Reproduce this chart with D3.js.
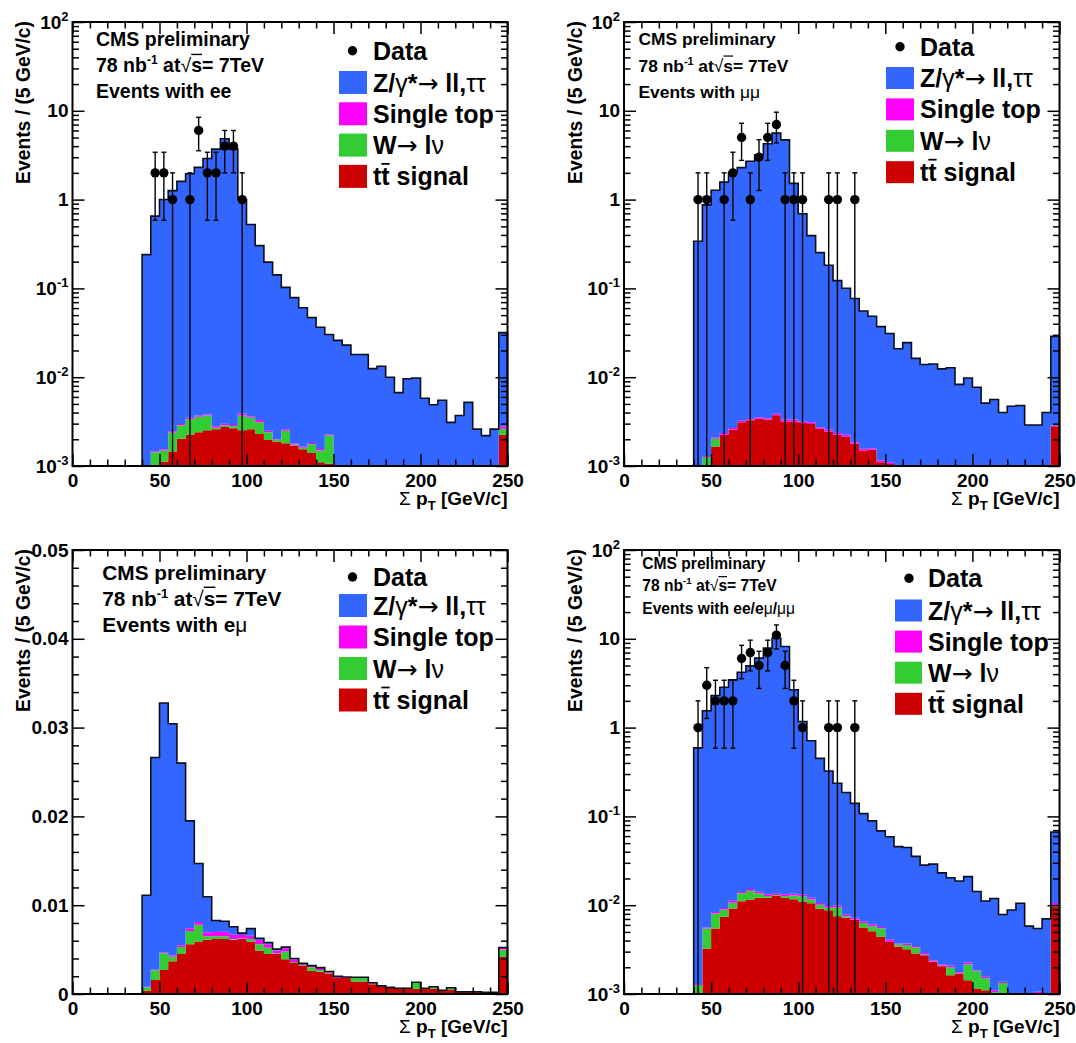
<!DOCTYPE html>
<html>
<head>
<meta charset="utf-8">
<script src="https://cdn.jsdelivr.net/npm/d3@7"></script>
<style>
  html, body { margin: 0; padding: 0; background: #fff; }
  svg text { font-family: "Liberation Sans", Arial, Helvetica, sans-serif; font-weight: bold; fill: #000; }
  svg text .sym { font-weight: normal; }
  svg text .arrow { font-family: "DejaVu Sans", sans-serif; font-weight: normal; }
</style>
</head>
<body>
<svg id="chart" width="1076" height="1043"></svg>
<script>
// Lower edges of the filled Σ pT bins (5 GeV/c wide, 40-250 GeV/c; the last bin holds the overflow)
const binLow = d3.range(40, 250, 5);

// ---- ee channel ----
const eeZ  = [0.24,0.65,1.0,1.26,1.6,1.95,2.3,2.9,3.7,4.85, 3.7,1.0,0.52,0.30,0.195,0.14,0.10,0.077,0.059,0.045,
              0.035,0.028,0.026,0.023,0.018,0.018,0.0125,0.0133,0.010,0.0067, 0.0096,0.0098,0.0058,0.0049,0.0055,0.0031,0.0037,0.0052,0.0026,0.0022,
              0.0026,0.029];
const eeTT = [0,0,0.00112,0.00146,0.00203,0.00225,0.0024,0.00253,0.0026,0.00275, 0.00267,0.00253,0.0026,0.0023,0.00196,0.00189,0.0018,0.0017,0.00154,0.0014,
              0.0011,0.00106,0,0,0,0,0,0,0,0, 0,0,0,0,0,0,0,0,0,0, 0,0.00225];
const eeW  = [0,0.00143,0.00037,0.00093,0.00084,0.00111,0.00118,0.00117,0.0001,0.00012, 0.00013,0.00117,0.0009,0.0008,0.00044,0.00008,0.0007,0.00005,0.00006,0.00036,
              0.00039,0.00114,0,0,0,0,0,0,0,0, 0,0,0,0,0,0,0,0,0,0, 0,0.00038];
const eeST = [0,0.00004,0.00005,0.00007,0.00011,0.00014,0.00012,0.0001,0.0001,0.00013, 0.0001,0.0002,0.0001,0.0002,0.0001,0.00003,0.0001,0.00005,0.00005,0.00006,
              0.00006,0.00005,0,0,0,0,0,0,0,0, 0,0,0,0,0,0,0,0,0,0, 0,0.00017];
const eeDataX = [47.5,52.5,57.5,67.5,72.5,77.5,82.5,87.5,92.5,97.5];
const eeDataN = [2,2,1,1,6,2,2,4,4,1];

// ---- μμ channel ----
const mmZ  = [0.34,0.87,1.27,1.57,2.02,2.29,2.7,3.2,4.25,5.6, 4.7,1.52,0.69,0.39,0.25,0.18,0.12,0.098,0.075,0.054,
              0.047,0.036,0.030,0.020,0.0245,0.0163,0.0139,0.0141,0.0124,0.0128, 0.0083,0.0098,0.0077,0.0051,0.0056,0.0040,0.0047,0.0048,0.0029,0.0029,
              0.0040,0.026];
const mmTT = [0,0,0.00166,0.00225,0.00257,0.0031,0.00327,0.00341,0.00333,0.00372, 0.00318,0.00318,0.00305,0.00297,0.00263,0.00245,0.00225,0.00215,0.00178,0.00149,
              0.00152,0.0011,0.00105,0.0009,0,0,0,0,0,0, 0,0,0,0,0,0,0,0,0,0, 0,0.0028];
const mmW  = [0,0.00126,0.00037,0,0,0,0,0,0,0, 0,0,0,0,0,0,0,0,0,0,
              0,0,0,0,0,0,0,0,0,0, 0,0,0,0,0,0,0,0,0,0, 0,0];
const mmST = [0,0.00004,0.00007,0.0001,0.00011,0.00013,0.0001,0.00014,0.00011,0.00016, 0.00015,0.00015,0.00013,0.00013,0.00011,0.00012,0.0001,0.0001,0.00007,0.00007,
              0.00006,0.00005,0.00005,0.00005,0,0,0,0,0,0, 0,0,0,0,0,0,0,0,0,0, 0,0.00005];
const mmDataX = [42.5,47.5,57.5,62.5,67.5,72.5,77.5,82.5,87.5,92.5,97.5,102.5,117.5,122.5,132.5];
const mmDataN = [1,1,1,2,5,1,3,5,7,1,1,1,1,1,1];

// ---- eμ channel ----
const emZ  = [0.0103,0.0239,0.0281,0.0261,0.0205,0.0121,0.0066,0.004,0.0013,0.0012, 0.0009,0.0002,0.0008,0.0002,0.0002,0.00015,0.00014,0.0001,0,0,
              0,0.00007,0.00007,0,0,0,0,0,0,0, 0,0,0,0,0,0,0,0,0,0, 0,0.00004];
const emTT = [0.00037,0.00157,0.0027,0.0037,0.0045,0.0056,0.0059,0.0061,0.0062,0.0062, 0.0061,0.0062,0.0059,0.0049,0.0045,0.0045,0.0039,0.0035,0.0032,0.0026,
              0.0025,0.0023,0.0018,0.0018,0.0014,0.0014,0.0011,0.0008,0.0007,0.0006, 0.0006,0.0006,0.0006,0.0006,0.0004,0.0005,0.00024,0.00024,0.00024,0.00017,
              0.00017,0.0042];
const emW  = [0.0004,0.0011,0.0019,0.0005,0.0008,0.0015,0.0019,0.0004,0.0003,0.0003, 0.0001,0.00005,0.0003,0.0007,0.0007,0.0001,0.0009,0.0001,0.0001,0.0004,
              0.0002,0.0001,0.00004,0.00004,0.00044,0.00044,0.00005,0.00003,0.00002,0.00002, 0.00002,0.0007,0.00002,0.0002,0.00002,0.0002,0.00001,0.00001,0.00001,0.00001,
              0.00001,0.0008];
const emST = [0.00005,0.00007,0.00007,0.00014,0.0002,0.0003,0.0003,0.00045,0.00048,0.0005, 0.00048,0.0004,0.00036,0.00047,0.0004,0.0003,0.00034,0.0003,0.00015,0.0002,
              0.00027,0.00007,0.00007,0.00007,0.00004,0.00004,0.00012,0.00009,0.00003,0.00002, 0.00002,0.00003,0.00002,0.00002,0.00001,0.00001,0.00001,0.00001,0.00001,0.00001,
              0.00001,0.0002];
const emDataX = [];
const emDataN = [];

// ---- all channels combined ----
const llZ  = [0.59,1.54,2.29,2.84,3.44,4.19,4.94,6.05,7.84,10.2, 8.19,2.65,1.16,0.70,0.44,0.315,0.226,0.178,0.133,0.101,
              0.083,0.063,0.055,0.042,0.041,0.032,0.0254,0.0266,0.021,0.0183, 0.017,0.0187,0.0124,0.0096,0.0108,0.0065,0.0082,0.0099,0.0052,0.0044,
              0.0064,0.056];
const llTT = [0.0004,0.00326,0.00547,0.0074,0.0092,0.0111,0.0116,0.0121,0.0121,0.0128, 0.0121,0.0117,0.011,0.0105,0.0091,0.0088,0.0075,0.0072,0.0068,0.0056,
              0.0051,0.0044,0.0039,0.0034,0.0032,0.00286,0.00274,0.0023,0.00206,0.00163, 0.0017,0.00143,0.00115,0.0011,0.00095,0.0008,0.0006,0.0006,0.0006,0.0007,
              0.0006,0.0096];
const llW  = [0.00086,0.00221,0.0026,0.00156,0.00144,0.0025,0.0029,0.0015,0.0006,0.0002, 0.0006,0.0012,0.0016,0.0011,0.001,0.0006,0.002,0.0003,0.0001,0.0007,
              0.0007,0.0011,0.00001,0.0002,0.00036,0.0005,0.00004,0.00003,0.00002,0.00037, 0.00001,0.00072,0.00065,0.0004,0.0001,0.00053,0.00001,0.00001,0.00001,0.0003,
              0.00001,0.0003];
const llST = [0.00004,0.00013,0.00033,0.00034,0.00056,0.0005,0.0007,0.0006,0.0006,0.0006, 0.0006,0.0006,0.0006,0.0005,0.0005,0.0004,0.0004,0.0003,0.0003,0.0003,
              0.0003,0.0002,0.0002,0.0001,0.00014,0.00011,0.00012,0.00007,0.00007,0.0001, 0.00005,0.00012,0.00004,0.00006,0.00005,0.00004,0.00001,0.00001,0.00001,0.00006,
              0.00001,0.0007];
const llDataX = [42.5,47.5,52.5,57.5,62.5,67.5,72.5,77.5,82.5,87.5,92.5,97.5,102.5,117.5,122.5,132.5];
const llDataN = [1,3,2,2,2,6,7,5,7,11,5,2,1,1,1,1];

// Axis ticks
const xTicks = [0, 50, 100, 150, 200, 250];
const xMinorTicks = d3.range(0, 251, 10).filter(v => v % 50 !== 0);
const logTicks = [1e-3, 1e-2, 1e-1, 1, 10, 100];
const logMinorTicks = d3.range(-3, 2).flatMap(e => d3.range(2, 10).map(m => m * Math.pow(10, e)));
const linTicks = [0, 0.01, 0.02, 0.03, 0.04, 0.05];
const linMinorTicks = d3.range(0, 0.0501, 0.002).filter((v, i) => i % 5 !== 0);

// Legend entries: text split into bold runs, symbol-font runs and barred runs
const legendEntries = [
  { key: 'data', parts: [['Data']] },
  { key: 'Z',  parts: [['Z/'], ['γ', 'sym'], ['*'], ['→', 'arrow'], [' ll,'], ['ττ', 'sym']] },
  { key: 'st', parts: [['Single top']] },
  { key: 'W',  parts: [['W'], ['→', 'arrow'], [' l'], ['ν', 'sym']] },
  { key: 'tt', parts: [['t'], ['t', 'bar'], [' signal']] }
];

const fills = { tt: '#cc0000', W: '#33cc33', st: '#ff00ff', Z: '#3366ff' };
const layerKeys = ['tt', 'W', 'st', 'Z'];

const panels = [
  { Z: eeZ, tt: eeTT, W: eeW, st: eeST, dataX: eeDataX, dataN: eeDataN, log: true,
    x0: 72.5, y0: 22, w: 435, h: 444,
    header: { x: 96, ys: [45.7, 72, 98.3], size: 19.5, last: [['Events with ee']] },
    legend: { markX: 352.5, dataY: 50.7, boxX: 339, boxW: 28, boxH: 23, boxTop: 71, step: 31.3, textX: 373 } },
  { Z: mmZ, tt: mmTT, W: mmW, st: mmST, dataX: mmDataX, dataN: mmDataN, log: true,
    x0: 624, y0: 22, w: 435.5, h: 444,
    header: { x: 638.5, ys: [45, 71.7, 97.7], size: 17.4, last: [['Events with '], ['μμ', 'sym']] },
    legend: { markX: 900, dataY: 46.7, boxX: 886, boxW: 28, boxH: 22, boxTop: 67, step: 31.4, textX: 920 } },
  { Z: emZ, tt: emTT, W: emW, st: emST, dataX: emDataX, dataN: emDataN, log: false,
    x0: 72.5, y0: 550, w: 435, h: 444,
    header: { x: 102.3, ys: [580, 606, 631.7], size: 20.8, last: [['Events with e'], ['μ', 'sym']] },
    legend: { markX: 352.5, dataY: 577, boxX: 339, boxW: 28, boxH: 23, boxTop: 594, step: 31.5, textX: 373 } },
  { Z: llZ, tt: llTT, W: llW, st: llST, dataX: llDataX, dataN: llDataN, log: true,
    x0: 624, y0: 550, w: 435.5, h: 444,
    header: { x: 642.3, ys: [569.3, 590.7, 614], size: 15.6, last: [['Events with ee/e'], ['μ', 'sym'], ['/'], ['μμ', 'sym']] },
    legend: { markX: 909, dataY: 578.3, boxX: 895, boxW: 27, boxH: 22, boxTop: 599.5, step: 31.1, textX: 928 } }
];

const svg = d3.select('#chart');

// Horizontal bar over characters a..b of a text element (t-bar, √ overline)
function overline(textSel, a, b, fs, lift) {
  const node = textSel.node();
  const x1 = node.getStartPositionOfChar(a).x;
  const x2 = node.getEndPositionOfChar(b).x;
  const yb = node.getStartPositionOfChar(a).y - fs * lift;
  d3.select(node.parentNode).append('line')
    .attr('x1', x1).attr('x2', x2).attr('y1', yb).attr('y2', yb)
    .attr('stroke', '#000').attr('stroke-width', Math.max(1.2, fs * 0.07));
}

// Append runs of text to a <text> element
function addParts(textSel, parts, fs) {
  let idx = 0;
  const bars = [];
  parts.forEach(([str, kind]) => {
    const t = textSel.append('tspan').text(str);
    if (kind === 'sym') t.attr('class', 'sym');
    if (kind === 'arrow') t.attr('class', 'arrow');
    if (kind === 'bar') bars.push([idx, idx + str.length - 1]);
    idx += str.length;
  });
  bars.forEach(([a, b]) => overline(textSel, a, b, fs, 0.86));
}

function styleAxis(sel, fontSize) {
  sel.attr('font-size', fontSize);
  sel.select('.domain').remove();
  sel.selectAll('line').attr('stroke', '#000').attr('stroke-width', 1.5);
}

function drawPanel(p) {
  const g = svg.append('g');
  const x = d3.scaleLinear().domain([0, 250]).range([p.x0, p.x0 + p.w]);
  const yBottom = p.y0 + p.h;
  const y = (p.log ? d3.scaleLog().domain([1e-3, 100]) : d3.scaleLinear().domain([0, 0.05]))
      .range([yBottom, p.y0]).clamp(true);
  const floor = p.log ? 1e-3 : 0;
  const yv = v => y(Math.max(v, floor));

  // Stacked histograms: tt̄, W, single top, Z/γ*
  const rows = binLow.map((b, i) => ({ bin: b, tt: p.tt[i], W: p.W[i], st: p.st[i], Z: p.Z[i] }));
  const series = d3.stack().keys(layerKeys)(rows);
  const area = d3.area().curve(d3.curveStepAfter)
      .x(d => x(d.bin)).y0(d => yv(d.lo)).y1(d => yv(d.hi));
  series.forEach(s => {
    const pts = s.map(d => ({ bin: d.data.bin, lo: d[0], hi: d[1] }));
    const last = pts[pts.length - 1];
    pts.push({ bin: 250, lo: last.lo, hi: last.hi });
    g.append('path').attr('d', area(pts)).attr('fill', fills[s.key]);
  });

  // Outline of the full stack
  const topLayer = series[series.length - 1];
  const outline = [{ bin: 40, v: floor }].concat(topLayer.map(d => ({ bin: d.data.bin, v: d[1] })));
  outline.push({ bin: 250, v: topLayer[topLayer.length - 1][1] }, { bin: 250, v: floor });
  const line = d3.line().curve(d3.curveStepAfter).x(d => x(d.bin)).y(d => yv(d.v));
  g.append('path').attr('d', line(outline)).attr('fill', 'none')
    .attr('stroke', '#0a0f1e').attr('stroke-width', 1.6);

  // Data points with √N error bars
  const dg = g.append('g');
  p.dataX.forEach((c, i) => {
    const n = p.dataN[i], e = Math.sqrt(n);
    const cx = x(c);
    const yHi = y(n + e);
    const lowOn = (n - e) > floor;
    const yLo = lowOn ? y(n - e) : yBottom;
    dg.append('line').attr('x1', cx).attr('x2', cx).attr('y1', yHi).attr('y2', yLo)
      .attr('stroke', '#000').attr('stroke-width', 1.4);
    dg.append('line').attr('x1', cx - 2.5).attr('x2', cx + 2.5).attr('y1', yHi).attr('y2', yHi)
      .attr('stroke', '#000').attr('stroke-width', 1.4);
    if (lowOn) dg.append('line').attr('x1', cx - 2.5).attr('x2', cx + 2.5).attr('y1', yLo).attr('y2', yLo)
      .attr('stroke', '#000').attr('stroke-width', 1.4);
    dg.append('circle').attr('cx', cx).attr('cy', y(n)).attr('r', 4.7).attr('fill', '#000');
  });

  // Axes: labelled bottom/left, mirrored ticks on top/right
  const major = 12, minor = 6.5;
  const ax = g.append('g');
  const bottom = ax.append('g').attr('transform', `translate(0,${yBottom})`)
    .call(d3.axisBottom(x).tickValues(xTicks).tickSizeInner(-major).tickSizeOuter(0).tickPadding(8).tickFormat(d3.format('d')));
  styleAxis(bottom, 19);
  styleAxis(ax.append('g').attr('transform', `translate(0,${yBottom})`)
    .call(d3.axisBottom(x).tickValues(xMinorTicks).tickSizeInner(-minor).tickSizeOuter(0).tickFormat('')), 19);
  styleAxis(ax.append('g').attr('transform', `translate(0,${p.y0})`)
    .call(d3.axisTop(x).tickValues(xTicks).tickSizeInner(-major).tickSizeOuter(0).tickFormat('')), 19);
  styleAxis(ax.append('g').attr('transform', `translate(0,${p.y0})`)
    .call(d3.axisTop(x).tickValues(xMinorTicks).tickSizeInner(-minor).tickSizeOuter(0).tickFormat('')), 19);

  const yMajor = p.log ? logTicks : linTicks;
  const yMinor = p.log ? logMinorTicks : linMinorTicks;
  const left = ax.append('g').attr('transform', `translate(${p.x0},0)`)
    .call(d3.axisLeft(y).tickValues(yMajor).tickSizeInner(-major).tickSizeOuter(0).tickPadding(4)
      .tickFormat(p.log ? '' : (d => d === 0 ? '0' : d3.format('.2f')(d))));
  styleAxis(left, 19);
  if (p.log) {
    left.selectAll('.tick text').each(function (d) {
      const t = d3.select(this);
      const ex = Math.round(Math.log10(d));
      if (ex === 0) t.text('1');
      else if (ex === 1) t.text('10');
      else {
        t.text('10');
        t.append('tspan').attr('dy', -8).attr('font-size', 13).text(ex);
      }
    });
  }
  styleAxis(ax.append('g').attr('transform', `translate(${p.x0},0)`)
    .call(d3.axisLeft(y).tickValues(yMinor).tickSizeInner(-minor).tickSizeOuter(0).tickFormat('')), 19);
  styleAxis(ax.append('g').attr('transform', `translate(${p.x0 + p.w},0)`)
    .call(d3.axisRight(y).tickValues(yMajor).tickSizeInner(-major).tickSizeOuter(0).tickFormat('')), 19);
  styleAxis(ax.append('g').attr('transform', `translate(${p.x0 + p.w},0)`)
    .call(d3.axisRight(y).tickValues(yMinor).tickSizeInner(-minor).tickSizeOuter(0).tickFormat('')), 19);

  // Frame
  g.append('rect').attr('x', p.x0).attr('y', p.y0).attr('width', p.w).attr('height', p.h)
    .attr('fill', 'none').attr('stroke', '#000').attr('stroke-width', 2);

  // Axis titles
  const xt = g.append('text').attr('x', p.x0 + p.w).attr('y', yBottom + 39)
    .attr('text-anchor', 'end').attr('font-size', 19);
  xt.append('tspan').attr('class', 'sym').text('Σ');
  xt.append('tspan').text(' p');
  xt.append('tspan').attr('font-size', 13).attr('dy', 5).text('T');
  xt.append('tspan').attr('dy', -5).text(' [GeV/c]');

  g.append('text').attr('transform', `translate(${p.x0 - 42.5},${p.y0 - 1}) rotate(-90)`)
    .attr('text-anchor', 'end').attr('font-size', 19.3).text('Events / (5 GeV/c)');

  // Header
  const H = p.header, fs = H.size;
  g.append('text').attr('x', H.x).attr('y', H.ys[0]).attr('font-size', fs).text('CMS preliminary');
  const lumi = g.append('text').attr('x', H.x).attr('y', H.ys[1]).attr('font-size', fs);
  lumi.append('tspan').text('78 nb');
  lumi.append('tspan').attr('font-size', fs * 0.62).attr('dy', -fs * 0.4).text('-1');
  lumi.append('tspan').attr('dy', fs * 0.4).text(' at');
  lumi.append('tspan').attr('class', 'sym').text('√');
  lumi.append('tspan').text('s');
  lumi.append('tspan').text('= 7TeV');
  // overline of the square root spans the "s" (characters: "78 nb" + "-1" + " at" + "√" → index 11)
  overline(lumi, 11, 11, fs, 0.9);
  addParts(g.append('text').attr('x', H.x).attr('y', H.ys[2]).attr('font-size', fs), H.last, fs);

  // Legend
  const L = p.legend, lfs = 25;
  legendEntries.forEach((entry, i) => {
    let cy;
    if (entry.key === 'data') {
      cy = L.dataY;
      g.append('circle').attr('cx', L.markX).attr('cy', cy).attr('r', 4.7).attr('fill', '#000');
    } else {
      const top = L.boxTop + (i - 1) * L.step;
      g.append('rect').attr('x', L.boxX).attr('y', top).attr('width', L.boxW).attr('height', L.boxH)
        .attr('fill', fills[entry.key]);
      cy = top + L.boxH / 2;
    }
    addParts(g.append('text').attr('x', L.textX).attr('y', cy + 9).attr('font-size', lfs), entry.parts, lfs);
  });
}

panels.forEach(drawPanel);
</script>
</body>
</html>
